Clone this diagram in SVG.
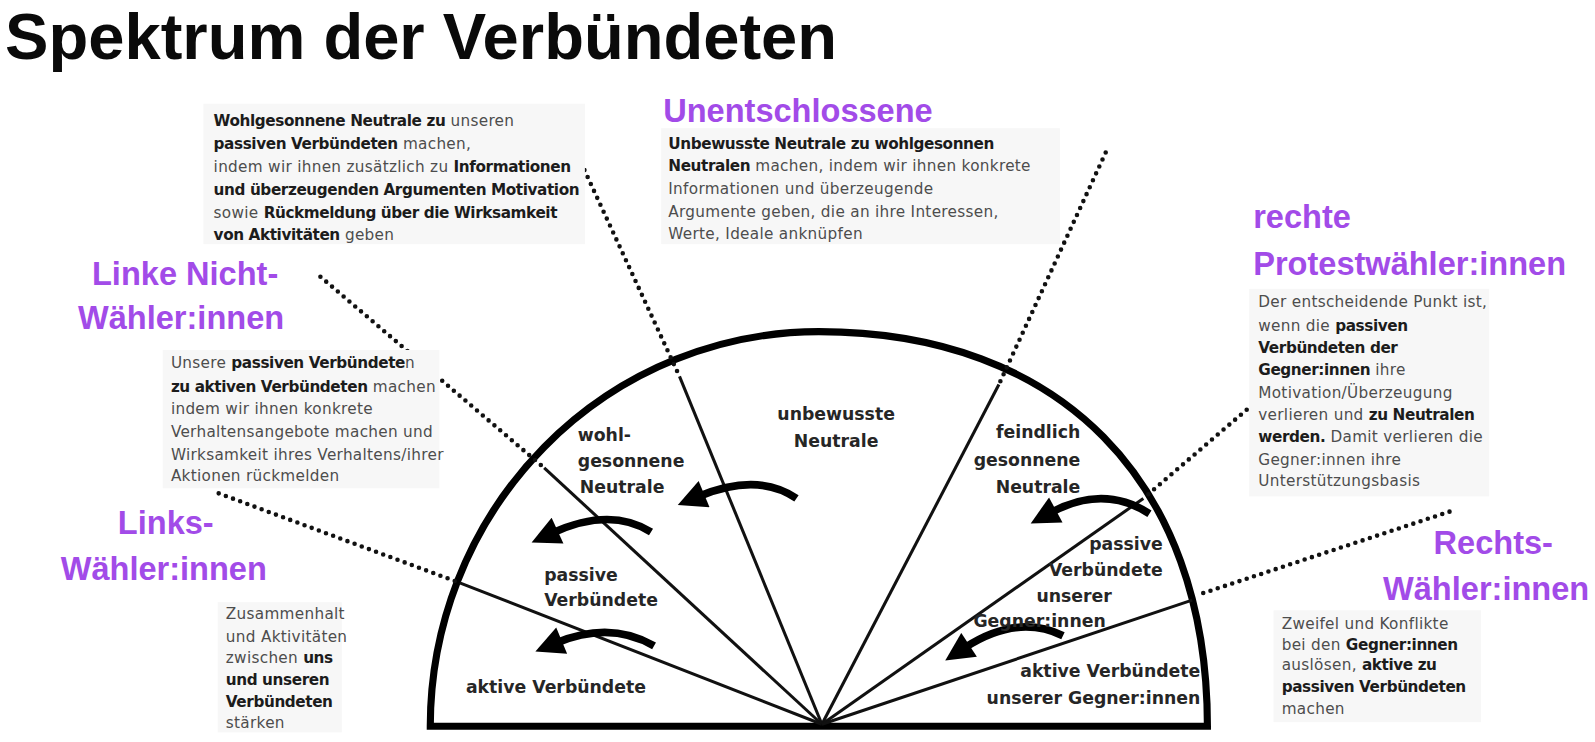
<svg xmlns="http://www.w3.org/2000/svg" width="1595" height="742" viewBox="0 0 1595 742">
<style>
.title{font-family:"Liberation Sans",Arial,sans-serif;font-size:64px;font-weight:700;fill:#0a0a0a}
.pur{font-family:"Liberation Sans",Arial,sans-serif;font-size:32px;font-weight:700;fill:#A24BE8}
.t{font-family:"DejaVu Sans",sans-serif;font-size:15px;fill:#4d4d4d;letter-spacing:0.3px}
.b{font-weight:700;fill:#1c1c1c;letter-spacing:-0.4px}
.lbl{font-family:"DejaVu Sans",sans-serif;font-size:17px;font-weight:700;fill:#262626}
.bg{fill:#f7f7f7}
.dot{stroke:#111;stroke-width:4.5;stroke-linecap:round;stroke-dasharray:0 7.5;fill:none}
.ray{stroke:#111;stroke-width:3;fill:none}
.rim{stroke:#000;stroke-width:7;fill:none}
.arr{stroke:#000;stroke-width:7.5;fill:none;marker-end:url(#ah)}
</style>
<defs>
<marker id="ah" viewBox="0 0 10 10" markerWidth="30" markerHeight="28" refX="2" refY="5" orient="auto" markerUnits="userSpaceOnUse">
<path d="M0,0 L10,5 L0,10 z" fill="#000"/>
</marker>
</defs>
<rect width="1595" height="742" fill="#fff"/>
<g id="diagram" transform="scale(1.0172)">

<g id="title"><text class="title" x="5" y="58">Spektrum der Verbündeten</text></g>

<g id="shape">
<path class="rim" d="M 423 714 A 382 388 0 0 1 805 326 C 1042 326 1187 473 1187 714 Z"/>
</g>

<g id="connectors">
<line class="ray" x1="808" y1="712" x2="452" y2="573"/>
<line class="ray" x1="808" y1="712" x2="535" y2="460"/>
<line class="ray" x1="808" y1="712" x2="668" y2="370"/>
<line class="ray" x1="808" y1="712" x2="982" y2="378"/>
<line class="ray" x1="808" y1="712" x2="1124" y2="490"/>
<line class="ray" x1="808" y1="712" x2="1172" y2="590"/>
<line class="dot" x1="215" y1="485" x2="452" y2="573"/>
<line class="dot" x1="315" y1="272" x2="535" y2="460"/>
<line class="dot" x1="562" y1="140" x2="668" y2="370"/>
<line class="dot" x1="1087" y1="150" x2="982" y2="378"/>
<line class="dot" x1="1237" y1="393" x2="1124" y2="490"/>
<line class="dot" x1="1425" y1="503" x2="1180" y2="584"/>
<path class="arr" d="M 783 490 Q 745 464 687 488"/>
<path class="arr" d="M 640 523 Q 600 498 543 524"/>
<path class="arr" d="M 643 635 Q 600 610 547 632"/>
<path class="arr" d="M 1130 505 Q 1085 476 1033 504"/>
<path class="arr" d="M 1045 625 Q 1000 603 948 637"/>
</g>

<g id="segment-unbewusste">
<text class="lbl" text-anchor="middle" x="822" y="413">unbewusste</text>
<text class="lbl" text-anchor="middle" x="822" y="439">Neutrale</text>
</g>
<g id="segment-wohlgesonnene">
<text class="lbl" x="568" y="434">wohl-</text>
<text class="lbl" x="568" y="459">gesonnene</text>
<text class="lbl" x="570" y="485">Neutrale</text>
</g>
<g id="segment-passive">
<text class="lbl" x="535" y="571">passive</text>
<text class="lbl" x="535" y="596">Verbündete</text>
</g>
<g id="segment-aktive">
<text class="lbl" x="458" y="681">aktive Verbündete</text>
</g>
<g id="segment-feindlich">
<text class="lbl" text-anchor="end" x="1062" y="431">feindlich</text>
<text class="lbl" text-anchor="end" x="1062" y="458">gesonnene</text>
<text class="lbl" text-anchor="end" x="1062" y="485">Neutrale</text>
</g>
<g id="segment-passive-gegner">
<text class="lbl" text-anchor="end" x="1143" y="541">passive</text>
<text class="lbl" text-anchor="end" x="1143" y="566">Verbündete</text>
<text class="lbl" text-anchor="middle" x="1056" y="592">unserer</text>
<text class="lbl" text-anchor="middle" x="1022" y="616">Gegner:innen</text>
</g>
<g id="segment-aktive-gegner">
<text class="lbl" text-anchor="end" x="1180" y="666">aktive Verbündete</text>
<text class="lbl" text-anchor="end" x="1180" y="692">unserer Gegner:innen</text>
</g>

<g id="label-unentschlossene"><text class="pur" x="652" y="120">Unentschlossene</text></g>
<g id="label-rechte-protest">
<text class="pur" x="1232" y="224">rechte</text>
<text class="pur" x="1232" y="270">Protestwähler:innen</text>
</g>
<g id="label-linke-nicht">
<text class="pur" text-anchor="middle" x="182" y="280">Linke Nicht-</text>
<text class="pur" text-anchor="middle" x="178" y="323">Wähler:innen</text>
</g>
<g id="label-links">
<text class="pur" text-anchor="middle" x="163" y="525">Links-</text>
<text class="pur" text-anchor="middle" x="161" y="570">Wähler:innen</text>
</g>
<g id="label-rechts">
<text class="pur" text-anchor="middle" x="1468" y="545">Rechts-</text>
<text class="pur" text-anchor="middle" x="1461" y="590">Wähler:innen</text>
</g>

<g id="note-top-left">
<rect class="bg" x="200" y="102" width="375" height="138"/>
<text class="t" x="210" y="124"><tspan class="b">Wohlgesonnene Neutrale zu</tspan> unseren</text>
<text class="t" x="210" y="146"><tspan class="b">passiven Verbündeten</tspan> machen,</text>
<text class="t" x="210" y="169">indem wir ihnen zusätzlich zu <tspan class="b">Informationen</tspan></text>
<text class="t" x="210" y="192"><tspan class="b">und überzeugenden Argumenten Motivation</tspan></text>
<text class="t" x="210" y="214">sowie <tspan class="b">Rückmeldung über die Wirksamkeit</tspan></text>
<text class="t" x="210" y="236"><tspan class="b">von Aktivitäten</tspan> geben</text>
</g>

<g id="note-top-middle">
<rect class="bg" x="650" y="126" width="392" height="114"/>
<text class="t" x="657" y="146"><tspan class="b">Unbewusste Neutrale zu wohlgesonnen</tspan></text>
<text class="t" x="657" y="168"><tspan class="b">Neutralen</tspan> machen, indem wir ihnen konkrete</text>
<text class="t" x="657" y="191">Informationen und überzeugende</text>
<text class="t" x="657" y="213">Argumente geben, die an ihre Interessen,</text>
<text class="t" x="657" y="235">Werte, Ideale anknüpfen</text>
</g>

<g id="note-left">
<rect class="bg" x="160" y="344" width="272" height="136"/>
<text class="t" x="168" y="362">Unsere <tspan class="b">passiven Verbündete</tspan>n</text>
<text class="t" x="168" y="385"><tspan class="b">zu aktiven Verbündeten</tspan> machen</text>
<text class="t" x="168" y="407">indem wir ihnen konkrete</text>
<text class="t" x="168" y="430">Verhaltensangebote machen und</text>
<text class="t" x="168" y="452">Wirksamkeit ihres Verhaltens/ihrer</text>
<text class="t" x="168" y="473">Aktionen rückmelden</text>
</g>

<g id="note-right">
<rect class="bg" x="1228" y="284" width="236" height="204"/>
<text class="t" x="1237" y="302">Der entscheidende Punkt ist,</text>
<text class="t" x="1237" y="325">wenn die <tspan class="b">passiven</tspan></text>
<text class="t" x="1237" y="347"><tspan class="b">Verbündeten der</tspan></text>
<text class="t" x="1237" y="369"><tspan class="b">Gegner:innen</tspan> ihre</text>
<text class="t" x="1237" y="391">Motivation/Überzeugung</text>
<text class="t" x="1237" y="413">verlieren und <tspan class="b">zu Neutralen</tspan></text>
<text class="t" x="1237" y="435"><tspan class="b">werden.</tspan> Damit verlieren die</text>
<text class="t" x="1237" y="457">Gegner:innen ihre</text>
<text class="t" x="1237" y="478">Unterstützungsbasis</text>
</g>

<g id="note-bottom-left">
<rect class="bg" x="214" y="592" width="122" height="128"/>
<text class="t" x="222" y="609">Zusammenhalt</text>
<text class="t" x="222" y="631">und Aktivitäten</text>
<text class="t" x="222" y="652">zwischen <tspan class="b">uns</tspan></text>
<text class="t" x="222" y="673"><tspan class="b">und unseren</tspan></text>
<text class="t" x="222" y="695"><tspan class="b">Verbündeten</tspan></text>
<text class="t" x="222" y="716">stärken</text>
</g>

<g id="note-bottom-right">
<rect class="bg" x="1252" y="600" width="204" height="110"/>
<text class="t" x="1260" y="618">Zweifel und Konflikte</text>
<text class="t" x="1260" y="639">bei den <tspan class="b">Gegner:innen</tspan></text>
<text class="t" x="1260" y="659">auslösen, <tspan class="b">aktive zu</tspan></text>
<text class="t" x="1260" y="680"><tspan class="b">passiven Verbündeten</tspan></text>
<text class="t" x="1260" y="702">machen</text>
</g>
</g>
</svg>
